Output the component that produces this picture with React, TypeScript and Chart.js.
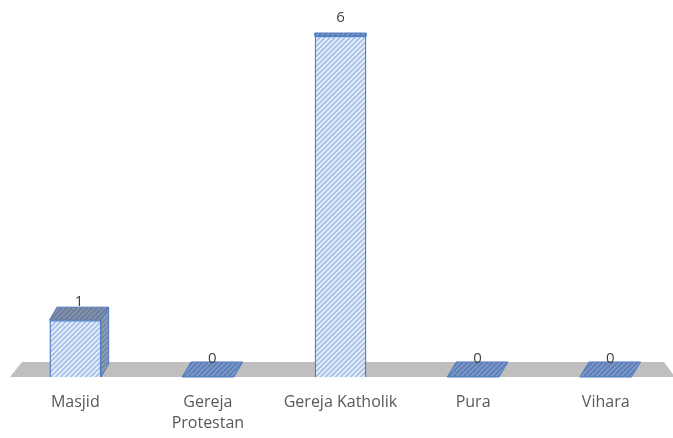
import React, { useEffect, useRef } from "react";
import { Chart, registerables } from "chart.js";

Chart.register(...registerables);

const categories: (string | string[])[] = [
  "Masjid",
  ["Gereja", "Protestan"],
  "Gereja Katholik",
  "Pura",
  "Vihara",
];
const values: number[] = [1, 0, 6, 0, 0];
const yMin = 0;
const yMax = 6;

function makePattern(
  ctx: CanvasRenderingContext2D,
  bg: string,
  stripe: string,
  size = 5,
  lw = 1.6
): CanvasPattern | string {
  const c = document.createElement("canvas");
  c.width = size;
  c.height = size;
  const g = c.getContext("2d");
  if (!g) return bg;
  g.fillStyle = bg;
  g.fillRect(0, 0, size, size);
  g.strokeStyle = stripe;
  g.lineWidth = lw;
  g.beginPath();
  g.moveTo(-1, size + 1);
  g.lineTo(size + 1, -1);
  g.moveTo(-size / 2 - 1, size / 2 + 1);
  g.lineTo(size / 2 + 1, -size / 2 - 1);
  g.moveTo(size / 2 - 1, size * 1.5 + 1);
  g.lineTo(size * 1.5 + 1, size / 2 - 1);
  g.stroke();
  return ctx.createPattern(c, "repeat") || bg;
}

export default function App() {
  const ref = useRef<HTMLCanvasElement | null>(null);

  useEffect(() => {
    const canvas = ref.current;
    if (!canvas) return;
    const ctx0 = canvas.getContext("2d")!;
    const frontPat = makePattern(ctx0, "#a9c3ea", "#f4f8fd", 5, 1.4);
    const topPat = makePattern(ctx0, "#7b98cb", "#5a79b2", 5, 1.5);
    const sidePat = makePattern(ctx0, "#8d9db8", "#70839e", 5, 1.5);
    const topPatGray = makePattern(ctx0, "#8292ae", "#687a98", 5, 1.5);

    const threeD = {
      id: "threeD",
      beforeDatasetsDraw(chart: any) {
        const { ctx, chartArea } = chart;
        const base = chart.scales.y.getPixelForValue(0);
        ctx.save();
        ctx.fillStyle = "#bfbfbf";
        ctx.beginPath();
        ctx.moveTo(chartArea.left + 1, base);
        ctx.lineTo(chartArea.left + 13, base - 15);
        ctx.lineTo(chartArea.right - 8, base - 15);
        ctx.lineTo(chartArea.right + 3, base);
        ctx.closePath();
        ctx.fill();
        ctx.restore();
      },
      afterDatasetsDraw(chart: any) {
        const { ctx, chartArea } = chart;
        const meta = chart.getDatasetMeta(0);
        const hmax = chartArea.bottom - chartArea.top;
        ctx.save();
        meta.data.forEach((el: any, i: number) => {
          const { x, y, base, width } = el.getProps(["x", "y", "base", "width"], true);
          const left = x - width / 2;
          const right = x + width / 2;
          const h = base - y;
          const t = Math.max(0, Math.min(1, h / hmax));
          const dy = 15 - 12 * t;
          const dx = 9 * (1 - t);
          ctx.lineWidth = 1;
          ctx.strokeStyle = "#4f7cc0";
          // side face
          if (h > 0.5 && dx > 0.5) {
            ctx.fillStyle = sidePat;
            ctx.beginPath();
            ctx.moveTo(right, y);
            ctx.lineTo(right + dx, y - dy);
            ctx.lineTo(right + dx, base - dy);
            ctx.lineTo(right, base);
            ctx.closePath();
            ctx.fill();
            ctx.stroke();
          }
          // top face
          ctx.fillStyle = h > 0.5 && t < 0.9 ? topPatGray : topPat;
          ctx.beginPath();
          ctx.moveTo(left, y);
          ctx.lineTo(left + dx, y - dy);
          ctx.lineTo(right + dx, y - dy);
          ctx.lineTo(right, y);
          ctx.closePath();
          ctx.fill();
          ctx.stroke();
          // value label
          ctx.fillStyle = "#404040";
          ctx.font = "15px 'Open Sans', sans-serif";
          ctx.textAlign = "center";
          ctx.textBaseline = "middle";
          ctx.fillText(String(values[i]), x + dx / 2, y - 18);
        });
        ctx.restore();
      },
    };

    const chart = new Chart(canvas, {
      type: "bar",
      data: {
        labels: categories,
        datasets: [
          {
            data: values,
            backgroundColor: frontPat as any,
            borderColor: "#4f81c9",
            borderWidth: 1.5,
            categoryPercentage: 1,
            barPercentage: 0.39,
          },
        ],
      },
      options: {
        responsive: false,
        animation: false,
        layout: { padding: { left: 9, right: 1, top: 36, bottom: 0 } },
        plugins: {
          legend: { display: false },
          tooltip: { enabled: false },
        },
        scales: {
          x: {
            grid: { display: false, drawTicks: false },
            border: { display: false },
            ticks: {
              color: "#595959",
              font: { family: "'Open Sans', sans-serif", size: 16, lineHeight: 1.3 },
              padding: 15,
              maxRotation: 0,
              autoSkip: false,
            },
            afterFit: (scale: any) => {
              scale.height = 61;
            },
          },
          y: {
            display: false,
            min: yMin,
            max: yMax,
          },
        },
      },
      plugins: [threeD],
    });
    return () => chart.destroy();
  }, []);

  return (
    <div style={{ position: "fixed", left: 0, top: 0, width: 673, height: 438, background: "#ffffff" }}>
      <canvas ref={ref} width={673} height={438} style={{ display: "block" }} />
    </div>
  );
}
